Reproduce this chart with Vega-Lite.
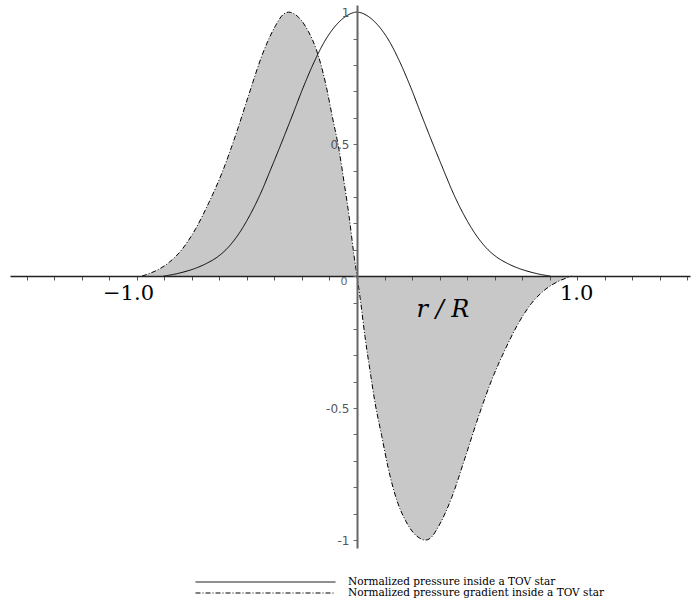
{
  "$schema": "https://vega.github.io/schema/vega-lite/v6.json",
  "width": 680,
  "height": 543,
  "autosize": {"type": "none"},
  "padding": {"left": 10, "top": 5, "right": 1, "bottom": 59},
  "background": "white",
  "config": {"view": {"stroke": null}},
  "datasets": {
    "curves": [
      {"series": "Normalized pressure inside a TOV star", "x": -0.9, "y": 0},
      {"series": "Normalized pressure inside a TOV star", "x": -0.85, "y": 0.007},
      {"series": "Normalized pressure inside a TOV star", "x": -0.8, "y": 0.017},
      {"series": "Normalized pressure inside a TOV star", "x": -0.75, "y": 0.03},
      {"series": "Normalized pressure inside a TOV star", "x": -0.7, "y": 0.048},
      {"series": "Normalized pressure inside a TOV star", "x": -0.65, "y": 0.072},
      {"series": "Normalized pressure inside a TOV star", "x": -0.6, "y": 0.108},
      {"series": "Normalized pressure inside a TOV star", "x": -0.55, "y": 0.16},
      {"series": "Normalized pressure inside a TOV star", "x": -0.5, "y": 0.228},
      {"series": "Normalized pressure inside a TOV star", "x": -0.45, "y": 0.31},
      {"series": "Normalized pressure inside a TOV star", "x": -0.4, "y": 0.407},
      {"series": "Normalized pressure inside a TOV star", "x": -0.35, "y": 0.507},
      {"series": "Normalized pressure inside a TOV star", "x": -0.3, "y": 0.61},
      {"series": "Normalized pressure inside a TOV star", "x": -0.25, "y": 0.715},
      {"series": "Normalized pressure inside a TOV star", "x": -0.2, "y": 0.81},
      {"series": "Normalized pressure inside a TOV star", "x": -0.15, "y": 0.89},
      {"series": "Normalized pressure inside a TOV star", "x": -0.1, "y": 0.948},
      {"series": "Normalized pressure inside a TOV star", "x": -0.05, "y": 0.985},
      {"series": "Normalized pressure inside a TOV star", "x": 0, "y": 1},
      {"series": "Normalized pressure inside a TOV star", "x": 0.05, "y": 0.985},
      {"series": "Normalized pressure inside a TOV star", "x": 0.1, "y": 0.948},
      {"series": "Normalized pressure inside a TOV star", "x": 0.15, "y": 0.89},
      {"series": "Normalized pressure inside a TOV star", "x": 0.2, "y": 0.81},
      {"series": "Normalized pressure inside a TOV star", "x": 0.25, "y": 0.715},
      {"series": "Normalized pressure inside a TOV star", "x": 0.3, "y": 0.61},
      {"series": "Normalized pressure inside a TOV star", "x": 0.35, "y": 0.507},
      {"series": "Normalized pressure inside a TOV star", "x": 0.4, "y": 0.407},
      {"series": "Normalized pressure inside a TOV star", "x": 0.45, "y": 0.31},
      {"series": "Normalized pressure inside a TOV star", "x": 0.5, "y": 0.228},
      {"series": "Normalized pressure inside a TOV star", "x": 0.55, "y": 0.16},
      {"series": "Normalized pressure inside a TOV star", "x": 0.6, "y": 0.108},
      {"series": "Normalized pressure inside a TOV star", "x": 0.65, "y": 0.072},
      {"series": "Normalized pressure inside a TOV star", "x": 0.7, "y": 0.048},
      {"series": "Normalized pressure inside a TOV star", "x": 0.75, "y": 0.03},
      {"series": "Normalized pressure inside a TOV star", "x": 0.8, "y": 0.017},
      {"series": "Normalized pressure inside a TOV star", "x": 0.85, "y": 0.007},
      {"series": "Normalized pressure inside a TOV star", "x": 0.9, "y": 0},

      {"series": "Normalized pressure gradient inside a TOV star", "x": -1.0, "y": 0},
      {"series": "Normalized pressure gradient inside a TOV star", "x": -0.975, "y": 0.007},
      {"series": "Normalized pressure gradient inside a TOV star", "x": -0.936, "y": 0.02},
      {"series": "Normalized pressure gradient inside a TOV star", "x": -0.874, "y": 0.052},
      {"series": "Normalized pressure gradient inside a TOV star", "x": -0.812, "y": 0.103},
      {"series": "Normalized pressure gradient inside a TOV star", "x": -0.75, "y": 0.18},
      {"series": "Normalized pressure gradient inside a TOV star", "x": -0.688, "y": 0.28},
      {"series": "Normalized pressure gradient inside a TOV star", "x": -0.626, "y": 0.395},
      {"series": "Normalized pressure gradient inside a TOV star", "x": -0.564, "y": 0.535},
      {"series": "Normalized pressure gradient inside a TOV star", "x": -0.502, "y": 0.69},
      {"series": "Normalized pressure gradient inside a TOV star", "x": -0.44, "y": 0.84},
      {"series": "Normalized pressure gradient inside a TOV star", "x": -0.378, "y": 0.95},
      {"series": "Normalized pressure gradient inside a TOV star", "x": -0.345, "y": 0.99},
      {"series": "Normalized pressure gradient inside a TOV star", "x": -0.318, "y": 1.0},
      {"series": "Normalized pressure gradient inside a TOV star", "x": -0.29, "y": 0.992},
      {"series": "Normalized pressure gradient inside a TOV star", "x": -0.26, "y": 0.97},
      {"series": "Normalized pressure gradient inside a TOV star", "x": -0.225, "y": 0.925},
      {"series": "Normalized pressure gradient inside a TOV star", "x": -0.19, "y": 0.86},
      {"series": "Normalized pressure gradient inside a TOV star", "x": -0.146, "y": 0.73},
      {"series": "Normalized pressure gradient inside a TOV star", "x": -0.115, "y": 0.605},
      {"series": "Normalized pressure gradient inside a TOV star", "x": -0.084, "y": 0.48},
      {"series": "Normalized pressure gradient inside a TOV star", "x": -0.06, "y": 0.355},
      {"series": "Normalized pressure gradient inside a TOV star", "x": -0.037, "y": 0.228},
      {"series": "Normalized pressure gradient inside a TOV star", "x": -0.015, "y": 0.085},
      {"series": "Normalized pressure gradient inside a TOV star", "x": 0, "y": 0},
      {"series": "Normalized pressure gradient inside a TOV star", "x": 0.015, "y": -0.085},
      {"series": "Normalized pressure gradient inside a TOV star", "x": 0.037, "y": -0.228},
      {"series": "Normalized pressure gradient inside a TOV star", "x": 0.06, "y": -0.355},
      {"series": "Normalized pressure gradient inside a TOV star", "x": 0.084, "y": -0.48},
      {"series": "Normalized pressure gradient inside a TOV star", "x": 0.115, "y": -0.605},
      {"series": "Normalized pressure gradient inside a TOV star", "x": 0.146, "y": -0.73},
      {"series": "Normalized pressure gradient inside a TOV star", "x": 0.19, "y": -0.86},
      {"series": "Normalized pressure gradient inside a TOV star", "x": 0.225, "y": -0.925},
      {"series": "Normalized pressure gradient inside a TOV star", "x": 0.26, "y": -0.97},
      {"series": "Normalized pressure gradient inside a TOV star", "x": 0.29, "y": -0.992},
      {"series": "Normalized pressure gradient inside a TOV star", "x": 0.318, "y": -1.0},
      {"series": "Normalized pressure gradient inside a TOV star", "x": 0.345, "y": -0.99},
      {"series": "Normalized pressure gradient inside a TOV star", "x": 0.378, "y": -0.95},
      {"series": "Normalized pressure gradient inside a TOV star", "x": 0.44, "y": -0.84},
      {"series": "Normalized pressure gradient inside a TOV star", "x": 0.502, "y": -0.69},
      {"series": "Normalized pressure gradient inside a TOV star", "x": 0.564, "y": -0.535},
      {"series": "Normalized pressure gradient inside a TOV star", "x": 0.626, "y": -0.395},
      {"series": "Normalized pressure gradient inside a TOV star", "x": 0.688, "y": -0.28},
      {"series": "Normalized pressure gradient inside a TOV star", "x": 0.75, "y": -0.18},
      {"series": "Normalized pressure gradient inside a TOV star", "x": 0.812, "y": -0.103},
      {"series": "Normalized pressure gradient inside a TOV star", "x": 0.874, "y": -0.052},
      {"series": "Normalized pressure gradient inside a TOV star", "x": 0.936, "y": -0.02},
      {"series": "Normalized pressure gradient inside a TOV star", "x": 0.975, "y": -0.007},
      {"series": "Normalized pressure gradient inside a TOV star", "x": 1.0, "y": 0}
    ]
  },
  "encoding": {
    "x": {
      "field": "x",
      "type": "quantitative",
      "scale": {"domain": [-1.614, 1.549], "nice": false, "zero": false},
      "axis": {
        "orient": "bottom",
        "offset": -272,
        "values": [-1.536, -1.408, -1.28, -1.152, -1.024, -0.896, -0.768, -0.64, -0.512, -0.384, -0.256, -0.128, 0, 0.128, 0.256, 0.384, 0.512, 0.64, 0.768, 0.896, 1.024, 1.152, 1.28, 1.408, 1.536],
        "labels": false,
        "title": null,
        "grid": false,
        "domainColor": "#222222",
        "domainWidth": 1.4,
        "tickColor": "#555555",
        "tickSize": 4,
        "tickWidth": 1,
        "zindex": 1
      }
    },
    "y": {
      "field": "y",
      "type": "quantitative",
      "scale": {"domain": [-1.03, 1.027], "nice": false, "zero": false},
      "axis": {
        "orient": "left",
        "offset": -347,
        "values": [-1, -0.9, -0.8, -0.7, -0.6, -0.5, -0.4, -0.3, -0.2, -0.1, 0, 0.1, 0.2, 0.3, 0.4, 0.5, 0.6, 0.7, 0.8, 0.9, 1],
        "labelExpr": "datum.value == 1 ? '1' : datum.value == 0.5 ? '0.5' : datum.value == -0.5 ? '-0.5' : datum.value == -1 ? '-1' : ''",
        "labelOverlap": false,
        "labelFont": "DejaVu Sans",
        "labelFontSize": 12,
        "labelColor": "#555555",
        "labelPadding": 4,
        "title": null,
        "grid": false,
        "domainColor": "#666666",
        "domainWidth": 2,
        "tickColor": "#666666",
        "tickSize": 4,
        "tickWidth": 1,
        "zindex": 1
      }
    }
  },
  "layer": [
    {
      "data": {"name": "curves"},
      "transform": [{"filter": "datum.series == 'Normalized pressure gradient inside a TOV star'"}],
      "mark": {"type": "area", "color": "#c8c8c8", "interpolate": "monotone"},
      "encoding": {"y2": {"datum": 0}}
    },
    {
      "data": {"name": "curves"},
      "mark": {"type": "line", "color": "black", "strokeWidth": 1, "interpolate": "monotone"},
      "encoding": {
        "strokeDash": {
          "field": "series",
          "type": "nominal",
          "scale": {
            "domain": ["Normalized pressure inside a TOV star", "Normalized pressure gradient inside a TOV star"],
            "range": [[1, 0], [5, 2, 1, 2]]
          },
          "legend": {
            "orient": "none",
            "legendX": 185,
            "legendY": 571.5,
            "title": null,
            "symbolType": "stroke",
            "symbolSize": 19600,
            "symbolStrokeWidth": 1,
            "symbolStrokeColor": "black",
            "clipHeight": 11,
            "rowPadding": 0,
            "padding": 0,
            "labelFont": "DejaVu Serif",
            "labelFontSize": 10.5,
            "labelColor": "black",
            "labelOffset": 12,
            "labelLimit": 400
          }
        }
      }
    },
    {
      "data": {"values": [{"x": -1.0, "y": 0, "text": "−1.0"}]},
      "mark": {"type": "text", "font": "DejaVu Serif", "fontSize": 21, "align": "right", "baseline": "middle", "dx": 12, "dy": 18, "color": "black"},
      "encoding": {"text": {"field": "text"}}
    },
    {
      "data": {"values": [{"x": 1.0, "y": 0, "text": "1.0"}]},
      "mark": {"type": "text", "font": "DejaVu Serif", "fontSize": 21, "align": "left", "baseline": "middle", "dx": -12, "dy": 18, "color": "black"},
      "encoding": {"text": {"field": "text"}}
    },
    {
      "data": {"values": [{"x": 0.4, "y": 0, "text": "r / R"}]},
      "mark": {"type": "text", "font": "DejaVu Serif", "fontStyle": "italic", "fontSize": 24, "align": "center", "baseline": "middle", "dy": 34, "color": "black"},
      "encoding": {"text": {"field": "text"}}
    },
    {
      "data": {"values": [{"x": 0, "y": 0, "text": "0"}]},
      "mark": {"type": "text", "font": "DejaVu Sans", "fontSize": 11, "align": "center", "baseline": "middle", "dx": -13, "dy": 6, "color": "#666666"},
      "encoding": {"text": {"field": "text"}}
    }
  ]
}
